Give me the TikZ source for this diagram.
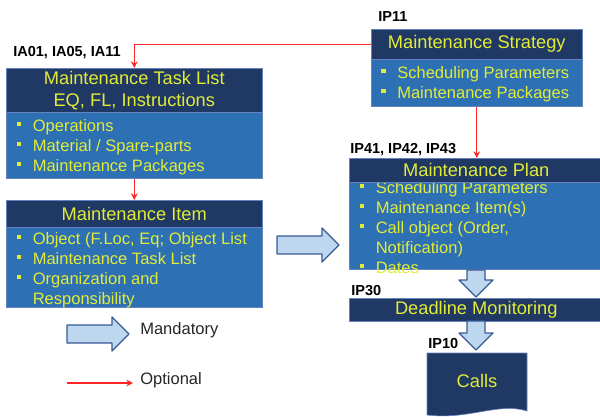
\documentclass[tikz,border=0pt]{standalone}
\usepackage{fontspec}
\setmainfont{Liberation Sans}
\usepackage{xcolor}
\usetikzlibrary{arrows.meta,calc}
\definecolor{navy}{RGB}{31,56,100}
\definecolor{midblue}{RGB}{46,112,180}
\definecolor{yel}{RGB}{226,236,56}
\definecolor{edge}{RGB}{100,130,190}
\definecolor{arrowfill}{RGB}{189,215,238}
\definecolor{arrowedge}{RGB}{55,90,150}
\newcommand\itm[1]{\makebox[12pt][l]{\rule[0.3em]{3.2pt}{3.2pt}}#1\strut}
\newcommand\cont[1]{\hspace*{12pt}#1\strut}
\tikzset{
wh/.style 2 args={minimum width=#1*0.75pt,minimum height=#2*0.75pt},
head/.style={draw=edge,fill=navy,text=yel,inner sep=0,anchor=north west,align=center,
  font=\fontsize{13.7}{16.5}\selectfont},
body/.style={draw=edge,fill=midblue,inner sep=0,anchor=north west},
list/.style={text=yel,inner sep=0,anchor=north west,align=left,font=\fontsize{12.4}{15}\selectfont},
tag/.style={inner sep=0,anchor=west,font=\fontsize{10.9}{13}\selectfont\bfseries},
note/.style={inner sep=0,anchor=west,font=\fontsize{12.4}{15}\selectfont,text=black!85},
opt/.style={red!85!white,thick,-{Stealth[length=5pt,width=5pt]}},
bigline/.style={draw=arrowedge,fill=arrowfill,line width=1pt,line join=round},
pics/bigarrow/.style={code={
  \draw[bigline](0,-9)--(#1-17,-9)--(#1-17,-17)--(#1,0)--(#1-17,17)--(#1-17,9)--(0,9)--cycle;}}
}
\begin{document}
\begin{tikzpicture}[x=0.75pt,y=-0.75pt]
\useasboundingbox(0,0)rectangle(600,417);
% task list
\node[body,wh={256}{66}](tlb)at(6,112){};
\node[head,wh={256}{44}](tlh)at(6,68){Maintenance Task List\\EQ, FL, Instructions};
\node[list](tll)at(16.5,117){\itm{Operations}\\\itm{Material / Spare-parts}\\\itm{Maintenance Packages}};
\node[tag](tlt)at(13,53){IA01, IA05, IA11};
% item
\node[body,wh={256}{80}](itb)at(6,227){};
\node[head,wh={256}{27}](ith)at(6,200){Maintenance Item};
\node[list](itl)at(16.5,230){\itm{Object (F.Loc, Eq; Object List}\\\itm{Maintenance Task List}\\
  \itm{Organization and}\\\cont{Responsibility}};
% strategy
\node[body,wh={211}{47}](stb)at(371,59){};
\node[head,wh={211}{30}](sth)at(371,29){Maintenance Strategy};
\node[list](stl)at(381,64){\itm{Scheduling Parameters}\\\itm{Maintenance Packages}};
\node[tag](stt)at(378,17){IP11};
% plan
\node[body,wh={254}{87}](plb)at(349,182){};
\node[list](pll)at(359.5,179){\itm{Scheduling Parameters}\\\itm{Maintenance Item(s)}\\
  \itm{Call object (Order,}\\\cont{Notification)}\\\itm{Dates}};
\node[head,wh={254}{24}](plh)at(349,158){Maintenance Plan};
\node[tag](plt)at(350,150){IP41, IP42, IP43};
% deadline
\node[head,wh={254}{23}](dmh)at(349,298){Deadline Monitoring};
\node[tag](dmt)at(351,291){IP30};
% calls
\draw[draw=edge,fill=navy](427,353)--(527,353)--(527,411)
  ..controls(498,402)and(470,420)..(427,415)--cycle;
\node[text=yel,font=\fontsize{13.7}{16.5}\selectfont](calls)at(477,381){Calls};
\node[tag](clt)at(428,343){IP10};
% optional links
\draw[opt](sth.west)-|(tlh.north);
\draw[opt](tlb.south)--(ith.north);
\draw[opt](stb.south)--(stb.south|-plh.north);
% mandatory flow
\pic at(277,245){bigarrow=62};
\pic[rotate=-90]at(476,270){bigarrow=27};
\pic[rotate=-90]at(476,321){bigarrow=29};
% legend
\pic at(67,334){bigarrow=62};
\node[note](mand)at(140,330){Mandatory};
\coordinate(o1)at(67,383);
\coordinate(o2)at(133,383);
\draw[opt](o1)--(o2);
\node[note](optn)at(140,380){Optional};
\end{tikzpicture}
\end{document}
